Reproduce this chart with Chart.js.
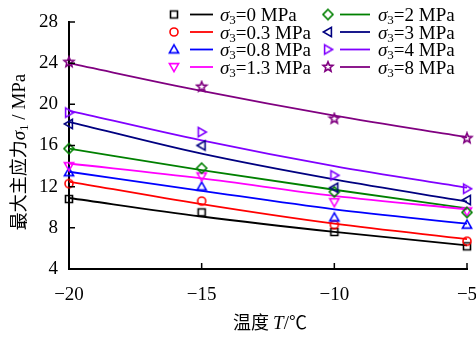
<!DOCTYPE html>
<html>
<head>
<meta charset="utf-8">
<script src="https://cdn.jsdelivr.net/npm/chart.js@4.4.0/dist/chart.umd.min.js"></script>
<style>
  html, body { margin: 0; padding: 0; background: #fff; }
  #wrap { width: 476px; height: 343px; }
</style>
</head>
<body>
<div id="wrap"><canvas id="myChart" width="476" height="343"></canvas></div>
<script>
// temperatures (x) and confining pressures
const temps = [-20, -15, -10, -5];
const sigma3 = ['0', '0.3', '0.8', '1.3', '2', '3', '4', '8'];

// measured peak stress, one row per sigma3
const measured = [
  [10.8, 9.5, 7.6, 6.2],
  [12.3, 10.6, 8.3, 6.7],
  [13.4, 12.0, 9.0, 8.3],
  [14.0, 13.0, 10.5, 9.6],
  [15.7, 13.8, 11.5, 9.5],
  [18.1, 16.0, 11.9, 10.7],
  [19.2, 17.3, 13.1, 11.8],
  [24.1, 21.7, 18.6, 16.7]
];

// fitted curves
const fitted = [
  [10.9, 9.1, 7.6, 6.3],
  [12.5, 10.3, 8.4, 6.9],
  [13.45, 11.6, 9.8, 8.4],
  [14.25, 12.8, 11.1, 9.8],
  [15.7, 13.6, 11.7, 9.9],
  [18.3, 15.2, 12.7, 10.55],
  [19.4, 16.5, 14.0, 11.9],
  [24.0, 21.3, 18.9, 16.8]
];

const xTicks = [-20, -15, -10, -5];
const yTicks = [4, 8, 12, 16, 20, 24, 28];

const colors = ['#000000', '#ff0000', '#0000ff', '#ff00ff', '#008000', '#000080', '#8000ff', '#800080'];
const shapes = ['square', 'circle', 'triUp', 'triDown', 'diamond', 'triLeft', 'triRight', 'star'];

const SERIF = '"Liberation Serif", "Times New Roman", serif';
const CJK = '"Noto Sans CJK SC", sans-serif';

// hollow marker drawn on a small canvas, used as pointStyle
function makeMarker(shape, color) {
  const s = 14;
  const cv = document.createElement('canvas');
  cv.width = s; cv.height = s;
  const g = cv.getContext('2d');
  g.strokeStyle = color;
  g.lineWidth = 1.6;
  g.translate(s / 2, s / 2);
  g.beginPath();
  switch (shape) {
    case 'square':
      g.rect(-3.5, -3.5, 7, 7);
      break;
    case 'circle':
      g.arc(0, 0, 4, 0, Math.PI * 2);
      break;
    case 'triUp':
      g.moveTo(0, -4.6); g.lineTo(4.6, 3.4); g.lineTo(-4.6, 3.4);
      break;
    case 'triDown':
      g.moveTo(0, 4.6); g.lineTo(4.6, -3.4); g.lineTo(-4.6, -3.4);
      break;
    case 'triLeft':
      g.moveTo(-4.6, 0); g.lineTo(3.4, -4.6); g.lineTo(3.4, 4.6);
      break;
    case 'triRight':
      g.moveTo(4.6, 0); g.lineTo(-3.4, -4.6); g.lineTo(-3.4, 4.6);
      break;
    case 'diamond':
      g.moveTo(0, -5); g.lineTo(5, 0); g.lineTo(0, 5); g.lineTo(-5, 0);
      break;
    case 'star':
      for (let k = 0; k < 10; k++) {
        const r = k % 2 === 0 ? 5.2 : 2.3;
        const ang = -Math.PI / 2 + k * Math.PI / 5;
        const px = r * Math.cos(ang), py = r * Math.sin(ang);
        if (k === 0) g.moveTo(px, py); else g.lineTo(px, py);
      }
      break;
  }
  g.closePath();
  g.stroke();
  return cv;
}

const markers = shapes.map((sh, i) => makeMarker(sh, colors[i]));

const datasets = [];
sigma3.forEach((s, i) => {
  datasets.push({
    label: 'σ3=' + s + ' MPa',
    data: temps.map((t, j) => ({ x: t, y: measured[i][j] })),
    showLine: false,
    pointStyle: markers[i],
    pointRadius: 5,
    pointHoverRadius: 5,
    order: 20 - i,
    clip: false
  });
});
sigma3.forEach((s, i) => {
  datasets.push({
    label: 'fit ' + s,
    data: temps.map((t, j) => ({ x: t, y: fitted[i][j] })),
    showLine: true,
    borderColor: colors[i],
    borderWidth: 1.8,
    pointRadius: 0,
    pointHoverRadius: 0,
    cubicInterpolationMode: 'monotone',
    order: 100,
    clip: false
  });
});

// draws rich text segments left to right, returns total width
function drawSegments(ctx, segs, x, y, measureOnly) {
  let cx = x;
  segs.forEach(sg => {
    ctx.font = sg.font;
    if (!measureOnly) ctx.fillText(sg.text, cx, y + (sg.dy || 0));
    cx += ctx.measureText(sg.text).width;
  });
  return cx - x;
}

const decor = {
  id: 'decor',
  afterDraw(chart) {
    const { ctx, chartArea: a, scales: { x, y } } = chart;
    ctx.save();
    ctx.strokeStyle = '#000';
    ctx.lineWidth = 1.5;

    // inward tick marks
    ctx.beginPath();
    yTicks.forEach(v => {
      const py = y.getPixelForValue(v);
      ctx.moveTo(a.left, py); ctx.lineTo(a.left + 6, py);
    });
    xTicks.forEach(v => {
      const px = x.getPixelForValue(v);
      ctx.moveTo(px, a.bottom); ctx.lineTo(px, a.bottom - 6);
    });
    ctx.stroke();

    // legend, two columns
    ctx.fillStyle = '#000';
    ctx.textBaseline = 'alphabetic';
    sigma3.forEach((s, i) => {
      const col = i < 4 ? 0 : 1;
      const row = i % 4;
      const ry = 14.5 + 17.5 * row;
      const mx = col === 0 ? 174 : 328;
      const l0 = col === 0 ? 190 : 340;
      const l1 = col === 0 ? 213 : 370;
      const tx = col === 0 ? 220 : 378;
      const m = markers[i];
      ctx.drawImage(m, mx - m.width / 2, ry - m.height / 2);
      ctx.strokeStyle = colors[i];
      ctx.lineWidth = 1.8;
      ctx.beginPath();
      ctx.moveTo(l0, ry); ctx.lineTo(l1, ry);
      ctx.stroke();
      drawSegments(ctx, [
        { text: 'σ', font: 'italic 19px ' + SERIF },
        { text: '3', font: '13px ' + SERIF, dy: 3 },
        { text: '=' + s + ' MPa', font: '19px ' + SERIF }
      ], tx, ry + 6.5);
    });

    // y axis title, rotated
    const ySegs = [
      { text: '最大主应力', font: '18px ' + CJK },
      { text: 'σ', font: 'italic 19px ' + SERIF },
      { text: '1', font: '13px ' + SERIF, dy: 3 },
      { text: ' / MPa', font: '19px ' + SERIF }
    ];
    ctx.save();
    ctx.translate(18, 152);
    ctx.rotate(-Math.PI / 2);
    const yw = drawSegments(ctx, ySegs, 0, 0, true);
    drawSegments(ctx, ySegs, -yw / 2, 6.5);
    ctx.restore();

    // x axis title
    const xSegs = [
      { text: '温度 ', font: '18px ' + CJK },
      { text: 'T', font: 'italic 19px ' + SERIF },
      { text: '/', font: '19px ' + SERIF },
      { text: '℃', font: '18px ' + CJK }
    ];
    const xw = drawSegments(ctx, xSegs, 0, 0, true);
    drawSegments(ctx, xSegs, 270 - xw / 2, 329);

    ctx.restore();
  }
};

new Chart(document.getElementById('myChart'), {
  type: 'scatter',
  data: { datasets: datasets },
  options: {
    responsive: false,
    animation: false,
    devicePixelRatio: 1,
    layout: { padding: { top: 22, right: 9, left: 0, bottom: 0 } },
    plugins: { legend: { display: false }, tooltip: { enabled: false } },
    scales: {
      x: {
        type: 'linear',
        min: -20,
        max: -5,
        afterBuildTicks: scale => { scale.ticks = xTicks.map(v => ({ value: v })); },
        afterFit: scale => {
          scale.height = 74;
          scale.paddingLeft = 0;
          scale.paddingRight = 0;
        },
        grid: { display: false, drawTicks: false },
        border: { display: true, color: '#000', width: 2 },
        ticks: {
          color: '#000',
          font: { family: SERIF, size: 19 },
          padding: 15,
          maxRotation: 0,
          callback: v => (v < 0 ? '\u2212' : '') + Math.abs(v)
        }
      },
      y: {
        type: 'linear',
        min: 4,
        max: 28,
        afterBuildTicks: scale => { scale.ticks = yTicks.map(v => ({ value: v })); },
        afterFit: scale => {
          scale.width = 69;
          scale.paddingTop = 0;
          scale.paddingBottom = 0;
        },
        grid: { display: false, drawTicks: false },
        border: { display: true, color: '#000', width: 2 },
        ticks: {
          color: '#000',
          font: { family: SERIF, size: 19 },
          padding: 11
        }
      }
    }
  },
  plugins: [decor]
});
</script>
</body>
</html>
